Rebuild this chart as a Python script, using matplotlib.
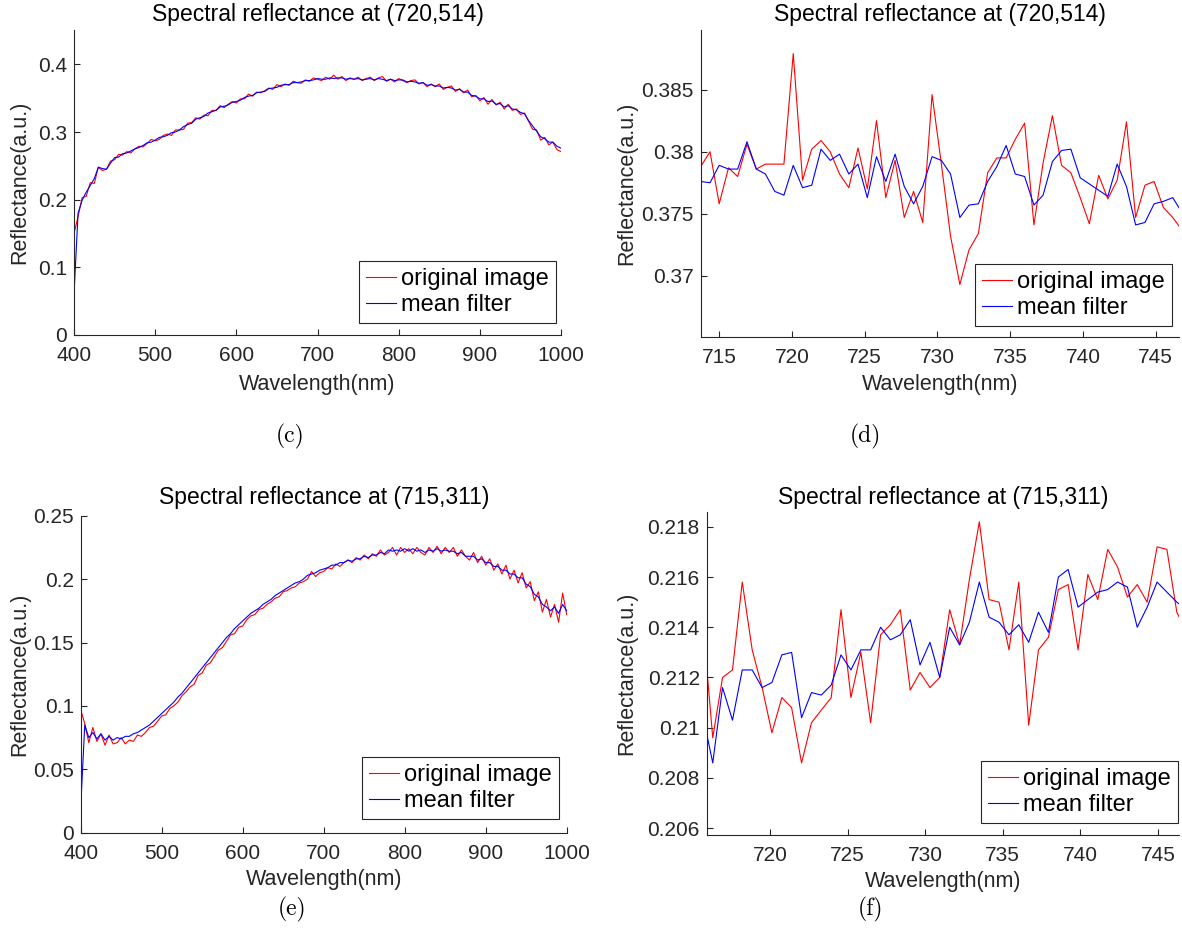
import matplotlib
matplotlib.use("Agg")
import matplotlib.pyplot as plt
from matplotlib.ticker import FuncFormatter

plt.rcParams['font.family'] = ['Liberation Sans', 'DejaVu Sans']

# ---- full spectra, pixel (720,514) and (715,311), 5 nm grid ----
wl_full = list(range(400, 1001, 5))

orig_c = [0.150, 0.175, 0.203, 0.205, 0.225, 0.224, 0.248, 0.243, 0.245, 0.257,
          0.259, 0.267, 0.266, 0.271, 0.269, 0.275, 0.279, 0.278, 0.283, 0.289,
          0.287, 0.289, 0.295, 0.297, 0.295, 0.303, 0.303, 0.304, 0.313, 0.314,
          0.321, 0.319, 0.325, 0.324, 0.332, 0.332, 0.339, 0.336, 0.341, 0.345,
          0.343, 0.349, 0.349, 0.356, 0.353, 0.359, 0.358, 0.361, 0.365, 0.363,
          0.370, 0.367, 0.371, 0.369, 0.375, 0.373, 0.372, 0.377, 0.375, 0.380,
          0.378, 0.376, 0.381, 0.378, 0.384, 0.378, 0.382, 0.376, 0.380, 0.378,
          0.381, 0.376, 0.379, 0.381, 0.376, 0.380, 0.382, 0.375, 0.378, 0.374,
          0.379, 0.376, 0.373, 0.376, 0.377, 0.371, 0.373, 0.367, 0.371, 0.367,
          0.371, 0.363, 0.366, 0.368, 0.360, 0.364, 0.358, 0.362, 0.352, 0.354,
          0.346, 0.351, 0.341, 0.348, 0.340, 0.344, 0.334, 0.341, 0.332, 0.334,
          0.326, 0.328, 0.316, 0.304, 0.303, 0.288, 0.292, 0.281, 0.285, 0.274,
          0.271]
mean_c = [0.060, 0.180, 0.199, 0.211, 0.221, 0.231, 0.248, 0.246, 0.245, 0.254,
          0.262, 0.263, 0.268, 0.269, 0.272, 0.275, 0.277, 0.280, 0.284, 0.285,
          0.288, 0.292, 0.293, 0.295, 0.299, 0.300, 0.303, 0.308, 0.311, 0.313,
          0.319, 0.321, 0.323, 0.328, 0.330, 0.332, 0.337, 0.338, 0.340, 0.344,
          0.345, 0.347, 0.351, 0.353, 0.354, 0.358, 0.359, 0.360, 0.364, 0.365,
          0.366, 0.369, 0.370, 0.370, 0.373, 0.373, 0.374, 0.376, 0.376, 0.377,
          0.379, 0.378, 0.378, 0.380, 0.379, 0.380, 0.380, 0.378, 0.379, 0.378,
          0.379, 0.377, 0.378, 0.379, 0.377, 0.379, 0.378, 0.376, 0.378, 0.376,
          0.377, 0.377, 0.374, 0.375, 0.374, 0.372, 0.373, 0.369, 0.370, 0.368,
          0.368, 0.365, 0.366, 0.365, 0.362, 0.363, 0.359, 0.359, 0.354, 0.353,
          0.349, 0.349, 0.345, 0.346, 0.341, 0.342, 0.337, 0.339, 0.334, 0.333,
          0.329, 0.327, 0.317, 0.309, 0.301, 0.293, 0.290, 0.285, 0.285, 0.279,
          0.276]

orig_e = [0.097, 0.086, 0.071, 0.083, 0.072, 0.078, 0.069, 0.077, 0.070, 0.071,
          0.075, 0.070, 0.073, 0.072, 0.077, 0.076, 0.079, 0.083, 0.084, 0.088,
          0.092, 0.093, 0.098, 0.100, 0.103, 0.108, 0.111, 0.115, 0.117, 0.124,
          0.126, 0.132, 0.134, 0.139, 0.144, 0.146, 0.151, 0.156, 0.157, 0.162,
          0.163, 0.168, 0.171, 0.172, 0.176, 0.177, 0.180, 0.182, 0.185, 0.186,
          0.190, 0.191, 0.193, 0.194, 0.197, 0.198, 0.200, 0.206, 0.202, 0.205,
          0.206, 0.209, 0.208, 0.212, 0.210, 0.213, 0.215, 0.213, 0.217, 0.215,
          0.219, 0.216, 0.220, 0.218, 0.223, 0.219, 0.221, 0.225, 0.219, 0.225,
          0.221, 0.224, 0.220, 0.225, 0.221, 0.219, 0.225, 0.221, 0.226, 0.220,
          0.225, 0.221, 0.225, 0.218, 0.223, 0.218, 0.215, 0.221, 0.213, 0.218,
          0.211, 0.216, 0.207, 0.212, 0.204, 0.211, 0.200, 0.207, 0.197, 0.205,
          0.193, 0.198, 0.183, 0.190, 0.174, 0.184, 0.170, 0.180, 0.166, 0.189,
          0.172]
mean_e = [0.020, 0.085, 0.075, 0.079, 0.074, 0.078, 0.073, 0.076, 0.073, 0.075,
          0.074, 0.076, 0.076, 0.078, 0.079, 0.081, 0.083, 0.085, 0.088, 0.091,
          0.094, 0.097, 0.100, 0.103, 0.107, 0.110, 0.114, 0.118, 0.122, 0.126,
          0.130, 0.134, 0.138, 0.142, 0.146, 0.150, 0.154, 0.157, 0.161, 0.164,
          0.167, 0.170, 0.173, 0.175, 0.177, 0.180, 0.182, 0.184, 0.187, 0.189,
          0.191, 0.193, 0.195, 0.197, 0.198, 0.200, 0.203, 0.204, 0.205, 0.207,
          0.208, 0.209, 0.211, 0.211, 0.213, 0.213, 0.215, 0.214, 0.216, 0.216,
          0.218, 0.217, 0.219, 0.219, 0.221, 0.220, 0.223, 0.222, 0.223, 0.222,
          0.224, 0.222, 0.224, 0.222, 0.223, 0.221, 0.223, 0.222, 0.224, 0.222,
          0.223, 0.222, 0.222, 0.220, 0.221, 0.218, 0.218, 0.218, 0.215, 0.216,
          0.213, 0.213, 0.210, 0.210, 0.207, 0.207, 0.204, 0.204, 0.201, 0.201,
          0.196, 0.194, 0.188, 0.186, 0.180, 0.178, 0.175, 0.178, 0.173, 0.180,
          0.175]

# ---- zoomed-in bands ----
wl_d = [713.73, 714.37, 715.00, 715.64, 716.27, 716.91, 717.55, 718.18, 718.82, 719.45,
        720.09, 720.73, 721.36, 722.00, 722.63, 723.27, 723.91, 724.54, 725.18, 725.81,
        726.45, 727.09, 727.72, 728.36, 728.99, 729.63, 730.27, 730.90, 731.54, 732.17,
        732.81, 733.45, 734.08, 734.72, 735.35, 735.99, 736.63, 737.26, 737.90, 738.53,
        739.17, 739.81, 740.44, 741.08, 741.71, 742.35, 742.99, 743.62, 744.26, 744.89,
        745.53, 746.17, 746.80]
orig_d = [0.3788, 0.3800, 0.3758, 0.3787, 0.3780, 0.3806, 0.3786, 0.3790, 0.3790, 0.3790,
          0.3879, 0.3777, 0.3802, 0.3809, 0.3800, 0.3782, 0.3771, 0.3803, 0.3770, 0.3825,
          0.3763, 0.3793, 0.3747, 0.3768, 0.3743, 0.3846, 0.3790, 0.3732, 0.3693, 0.3721,
          0.3734, 0.3783, 0.3795, 0.3795, 0.3810, 0.3823, 0.3741, 0.3791, 0.3829, 0.3789,
          0.3783, 0.3763, 0.3742, 0.3781, 0.3762, 0.3777, 0.3824, 0.3747, 0.3773, 0.3776,
          0.3755, 0.3747, 0.3737]
mean_d = [0.3776, 0.3775, 0.3789, 0.3786, 0.3786, 0.3808, 0.3786, 0.3782, 0.3768, 0.3765,
          0.3789, 0.3771, 0.3773, 0.3802, 0.3793, 0.3798, 0.3782, 0.3790, 0.3763, 0.3796,
          0.3776, 0.3798, 0.3772, 0.3758, 0.3772, 0.3796, 0.3793, 0.3782, 0.3747, 0.3757,
          0.3758, 0.3776, 0.3788, 0.3805, 0.3782, 0.3780, 0.3757, 0.3765, 0.3792, 0.3801,
          0.3802, 0.3779, 0.3774, 0.3769, 0.3764, 0.3790, 0.3772, 0.3741, 0.3743, 0.3758,
          0.3760, 0.3763, 0.3751]

wl_f = [715.68, 716.32, 716.95, 717.59, 718.22, 718.86, 719.50, 720.13, 720.77, 721.40,
        722.04, 722.68, 723.31, 723.95, 724.58, 725.22, 725.86, 726.49, 727.13, 727.76,
        728.40, 729.04, 729.67, 730.31, 730.94, 731.58, 732.22, 732.85, 733.49, 734.12,
        734.76, 735.40, 736.03, 736.67, 737.30, 737.94, 738.58, 739.21, 739.85, 740.48,
        741.12, 741.76, 742.39, 743.03, 743.66, 744.30, 744.94, 745.57, 746.21, 746.84]
orig_f = [0.2142, 0.2096, 0.2120, 0.2123, 0.2158, 0.2131, 0.2116, 0.2098, 0.2112, 0.2108,
          0.2086, 0.2102, 0.2107, 0.2112, 0.2147, 0.2112, 0.2130, 0.2102, 0.2137, 0.2141,
          0.2147, 0.2115, 0.2122, 0.2116, 0.2120, 0.2147, 0.2133, 0.2159, 0.2182, 0.2151,
          0.2150, 0.2131, 0.2158, 0.2101, 0.2131, 0.2136, 0.2155, 0.2157, 0.2131, 0.2161,
          0.2151, 0.2171, 0.2164, 0.2152, 0.2157, 0.2150, 0.2172, 0.2171, 0.2146, 0.2138]
mean_f = [0.2105, 0.2086, 0.2116, 0.2103, 0.2123, 0.2123, 0.2116, 0.2118, 0.2129, 0.2130,
          0.2104, 0.2114, 0.2113, 0.2117, 0.2129, 0.2123, 0.2131, 0.2131, 0.2140, 0.2135,
          0.2137, 0.2143, 0.2125, 0.2134, 0.2120, 0.2140, 0.2133, 0.2142, 0.2158, 0.2144,
          0.2142, 0.2137, 0.2141, 0.2134, 0.2146, 0.2138, 0.2160, 0.2163, 0.2148, 0.2151,
          0.2154, 0.2155, 0.2158, 0.2156, 0.2140, 0.2148, 0.2158, 0.2154, 0.2150, 0.2147]

W, H = 1182, 949
GRAY = '#262626'

fig = plt.figure(figsize=(W / 100, H / 100), dpi=100)


def panel(box, x, y_orig, y_mean, xlim, ylim, xticks, yticks, title, leg_corner,
          title_y, caption, cap_xy, ylab_x, xlab_y):
    l, t, r, b = box
    ax = fig.add_axes([l / W, 1 - b / H, (r - l) / W, (b - t) / H])
    ax.plot(x, y_orig, color='red', lw=0.8, label='original image')
    ax.plot(x, y_mean, color='blue', lw=0.8, label='mean filter')
    ax.set_xlim(xlim)
    ax.set_ylim(ylim)
    ax.set_xticks(xticks)
    ax.set_yticks(yticks)
    ax.yaxis.set_major_formatter(FuncFormatter(lambda v, p: '%g' % round(v, 4)))
    for s in ['top', 'right']:
        ax.spines[s].set_visible(False)
    for s in ['left', 'bottom']:
        ax.spines[s].set_color(GRAY)
        ax.spines[s].set_linewidth(0.8)
    ax.tick_params(direction='in', length=4, width=0.8, colors=GRAY,
                   labelsize=15, labelcolor=GRAY)
    ax.tick_params(axis='x', pad=8)
    ax.tick_params(axis='y', pad=5)
    leg = ax.legend(loc='lower right',
                    bbox_to_anchor=(leg_corner[0] / W, 1 - leg_corner[1] / H),
                    bbox_transform=fig.transFigure, borderaxespad=0,
                    fontsize=17, fancybox=False, framealpha=1,
                    handlelength=1.3, handletextpad=0.2, borderpad=0.3,
                    labelspacing=0.15)
    leg.get_frame().set_edgecolor(GRAY)
    leg.get_frame().set_linewidth(0.8)
    cx = (l + r) / 2
    fig.text(cx / W, 1 - title_y / H, title, ha='center', va='center',
             fontsize=16.5, color='black')
    fig.text(cx / W, 1 - xlab_y / H, 'Wavelength(nm)', ha='center', va='center',
             fontsize=15.5, color=GRAY)
    fig.text(ylab_x / W, 1 - (t + b) / 2 / H, 'Reflectance(a.u.)', ha='center',
             va='center', rotation=90, fontsize=15.5, color=GRAY)
    fig.text(cap_xy[0] / W, 1 - cap_xy[1] / H, caption, ha='center', va='center',
             fontsize=17, family='cmr10')
    return ax


panel((74, 30.5, 561, 335), wl_full, orig_c, mean_c, (400, 1000), (0, 0.45),
      [400, 500, 600, 700, 800, 900, 1000], [0, 0.1, 0.2, 0.3, 0.4],
      'Spectral reflectance at (720,514)', (556, 323), 15, '(c)', (290, 436),
      20, 385)
panel((700.7, 30, 1179, 336.7), wl_d, orig_d, mean_d, (713.73, 746.6),
      (0.3651, 0.3898), [715, 720, 725, 730, 735, 740, 745],
      [0.37, 0.375, 0.38, 0.385],
      'Spectral reflectance at (720,514)', (1172, 326), 15, '(d)', (865, 436),
      627, 385)
panel((80.7, 515.7, 566.7, 832.7), wl_full, orig_e, mean_e, (400, 1000),
      (0, 0.25), [400, 500, 600, 700, 800, 900, 1000],
      [0, 0.05, 0.1, 0.15, 0.2, 0.25],
      'Spectral reflectance at (715,311)', (559, 819), 497, '(e)', (292, 909),
      20, 880)
panel((706.7, 511.7, 1179.3, 835), wl_f, orig_f, mean_f, (715.93, 746.37),
      (0.20573, 0.2186), [720, 725, 730, 735, 740, 745],
      [0.206, 0.208, 0.21, 0.212, 0.214, 0.216, 0.218],
      'Spectral reflectance at (715,311)', (1178, 823), 497, '(f)', (870, 909),
      627, 882)

fig.savefig('out.png', dpi=100)
